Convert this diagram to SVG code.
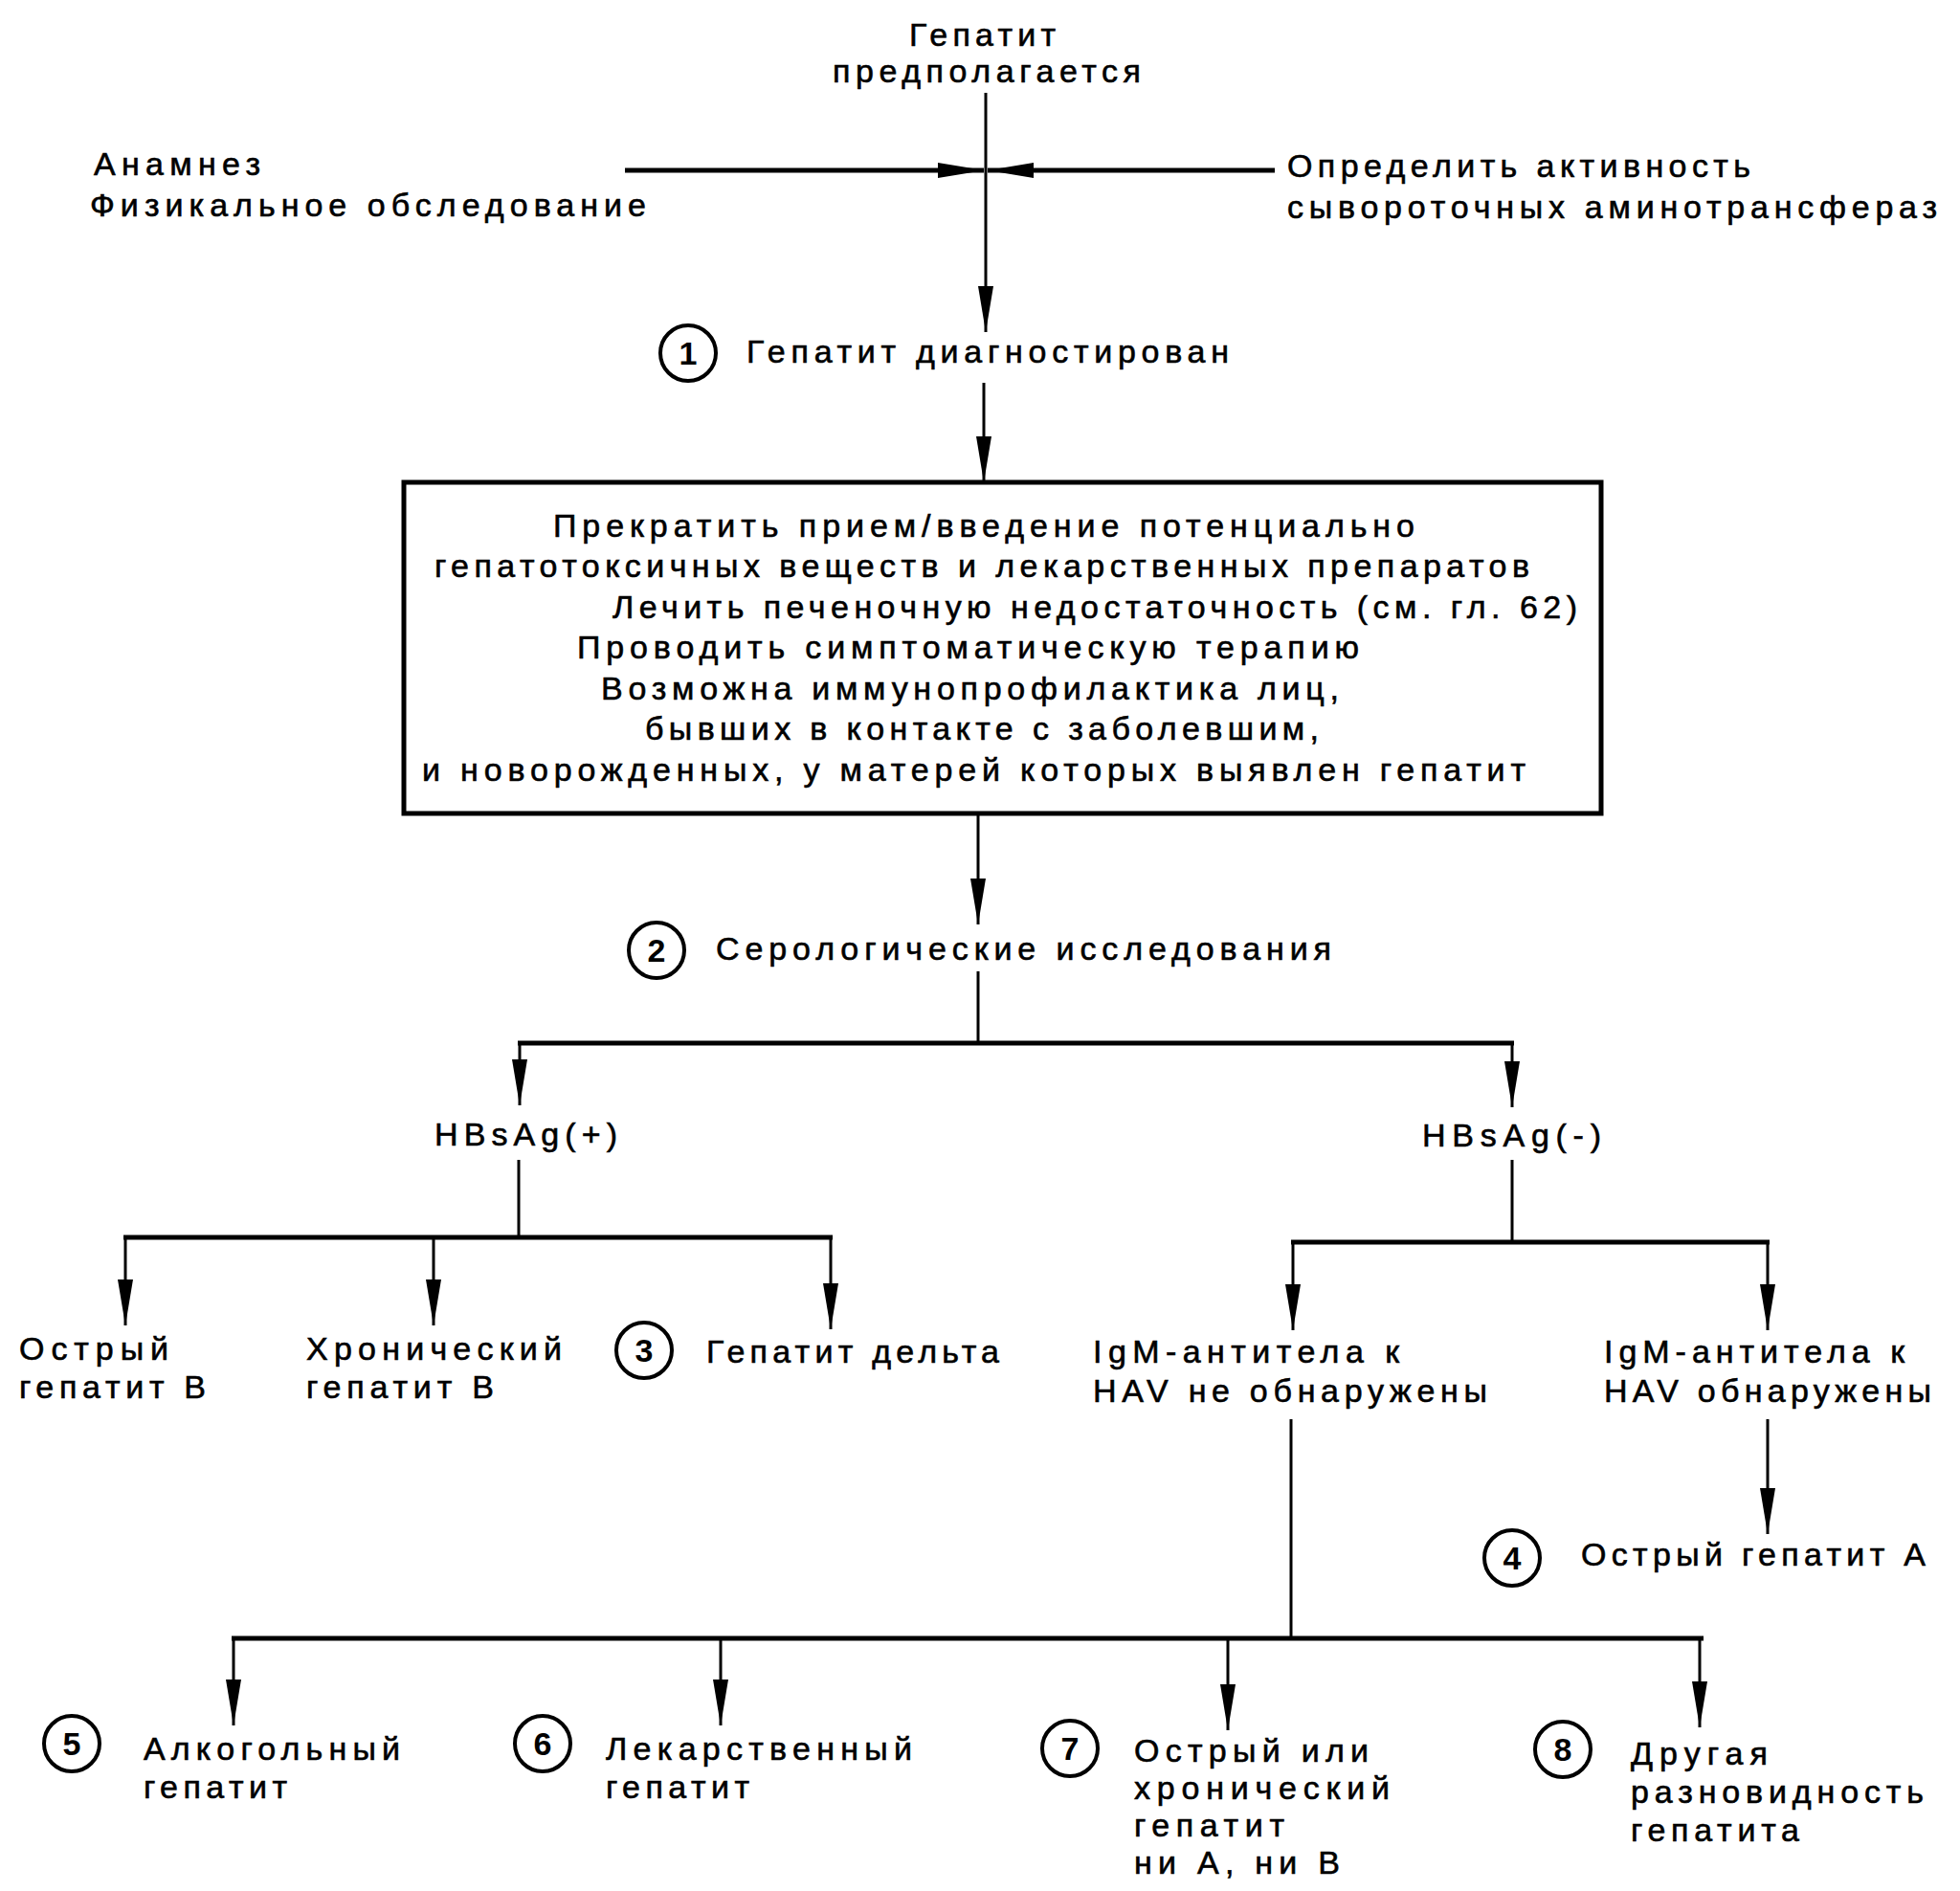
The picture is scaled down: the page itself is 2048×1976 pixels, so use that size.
<svg xmlns="http://www.w3.org/2000/svg" width="2048" height="1976" viewBox="0 0 2048 1976">
<defs>
<style>
.t{font-family:"Liberation Sans",Arial,sans-serif;font-size:34px;fill:#000;stroke:#000;stroke-width:0.6}
.n{font-family:"Liberation Sans",Arial,sans-serif;font-size:34px;font-weight:bold;fill:#000;text-anchor:middle}
.c{fill:none;stroke:#000;stroke-width:4}
.l{fill:none;stroke:#000;stroke-width:3}
.b{fill:none;stroke:#000;stroke-width:5}
.box{fill:#fff;stroke:#000;stroke-width:5}
</style>
<marker id="ah" markerUnits="userSpaceOnUse" markerWidth="52" markerHeight="18" refX="48" refY="8" orient="auto">
<path d="M0,0 L48,8 L0,16 Z" fill="#000"/>
</marker>
</defs>
<rect width="2048" height="1976" fill="#fff"/>

<g id="connectors">
<line class="l" x1="1030" y1="97" x2="1030" y2="347" marker-end="url(#ah)"/>
<line class="b" x1="653" y1="178" x2="1028" y2="178" marker-end="url(#ah)"/>
<line class="b" x1="1332" y1="178" x2="1032" y2="178" marker-end="url(#ah)"/>
<line class="l" x1="1028" y1="400" x2="1028" y2="504" marker-end="url(#ah)"/>
<line class="l" x1="1022" y1="852" x2="1022" y2="966" marker-end="url(#ah)"/>
<line class="l" x1="1022" y1="1015" x2="1022" y2="1090"/>
<line class="b" x1="541" y1="1090" x2="1582" y2="1090"/>
<line class="l" x1="543" y1="1090" x2="543" y2="1155" marker-end="url(#ah)"/>
<line class="l" x1="1580" y1="1090" x2="1580" y2="1157" marker-end="url(#ah)"/>
<line class="l" x1="542" y1="1212" x2="542" y2="1293"/>
<line class="b" x1="129" y1="1293" x2="870" y2="1293"/>
<line class="l" x1="131" y1="1293" x2="131" y2="1385" marker-end="url(#ah)"/>
<line class="l" x1="453" y1="1293" x2="453" y2="1385" marker-end="url(#ah)"/>
<line class="l" x1="868" y1="1293" x2="868" y2="1389" marker-end="url(#ah)"/>
<line class="l" x1="1580" y1="1212" x2="1580" y2="1298"/>
<line class="b" x1="1349" y1="1298" x2="1849" y2="1298"/>
<line class="l" x1="1351" y1="1298" x2="1351" y2="1390" marker-end="url(#ah)"/>
<line class="l" x1="1847" y1="1298" x2="1847" y2="1390" marker-end="url(#ah)"/>
<line class="l" x1="1349" y1="1483" x2="1349" y2="1712"/>
<line class="l" x1="1847" y1="1483" x2="1847" y2="1603" marker-end="url(#ah)"/>
<line class="b" x1="242" y1="1712" x2="1780" y2="1712"/>
<line class="l" x1="244" y1="1712" x2="244" y2="1803" marker-end="url(#ah)"/>
<line class="l" x1="753" y1="1712" x2="753" y2="1803" marker-end="url(#ah)"/>
<line class="l" x1="1283" y1="1712" x2="1283" y2="1808" marker-end="url(#ah)"/>
<line class="l" x1="1776" y1="1712" x2="1776" y2="1805" marker-end="url(#ah)"/>
</g>

<g id="start">
<text class="t" x="950" y="48" textLength="153" lengthAdjust="spacing">Гепатит</text>
<text class="t" x="870" y="86" textLength="322" lengthAdjust="spacing">предполагается</text>
</g>
<g id="history">
<text class="t" x="98" y="183" textLength="174" lengthAdjust="spacing">Анамнез</text>
<text class="t" x="94" y="226" textLength="581" lengthAdjust="spacing">Физикальное обследование</text>
</g>
<g id="aminotransferase">
<text class="t" x="1345" y="185" textLength="484" lengthAdjust="spacing">Определить активность</text>
<text class="t" x="1345" y="228" textLength="679" lengthAdjust="spacing">сывороточных аминотрансфераз</text>
</g>
<g id="step1">
<circle class="c" cx="719" cy="369" r="29"/>
<text class="n" x="719" y="381">1</text>
<text class="t" x="780" y="379" textLength="504" lengthAdjust="spacing">Гепатит диагностирован</text>
</g>
<g id="treatment">
<rect class="box" x="422" y="504" width="1251" height="346"/>
<text class="t" x="578" y="561" textLength="900" lengthAdjust="spacing">Прекратить прием/введение потенциально</text>
<text class="t" x="454" y="603" textLength="1144" lengthAdjust="spacing">гепатотоксичных веществ и лекарственных препаратов</text>
<text class="t" x="640" y="646" textLength="1008" lengthAdjust="spacing">Лечить печеночную недостаточность (см. гл. 62)</text>
<text class="t" x="603" y="688" textLength="817" lengthAdjust="spacing">Проводить симптоматическую терапию</text>
<text class="t" x="628" y="731" textLength="771" lengthAdjust="spacing">Возможна иммунопрофилактика лиц,</text>
<text class="t" x="674" y="773" textLength="704" lengthAdjust="spacing">бывших в контакте с заболевшим,</text>
<text class="t" x="441" y="816" textLength="1153" lengthAdjust="spacing">и новорожденных, у матерей которых выявлен гепатит</text>
</g>
<g id="step2">
<circle class="c" cx="686" cy="993" r="29"/>
<text class="n" x="686" y="1005">2</text>
<text class="t" x="748" y="1003" textLength="643" lengthAdjust="spacing">Серологические исследования</text>
</g>
<g id="hbsag-pos">
<text class="t" x="454" y="1197" textLength="191" lengthAdjust="spacing">HBsAg(+)</text>
</g>
<g id="hbsag-neg">
<text class="t" x="1486" y="1198" textLength="187" lengthAdjust="spacing">HBsAg(-)</text>
</g>
<g id="acute-b">
<text class="t" x="20" y="1421" textLength="156" lengthAdjust="spacing">Острый</text>
<text class="t" x="20" y="1461" textLength="195" lengthAdjust="spacing">гепатит В</text>
</g>
<g id="chronic-b">
<text class="t" x="320" y="1421" textLength="267" lengthAdjust="spacing">Хронический</text>
<text class="t" x="320" y="1461" textLength="196" lengthAdjust="spacing">гепатит В</text>
</g>
<g id="step3">
<circle class="c" cx="673" cy="1411" r="29"/>
<text class="n" x="673" y="1423">3</text>
<text class="t" x="738" y="1424" textLength="306" lengthAdjust="spacing">Гепатит дельта</text>
</g>
<g id="igm-neg">
<text class="t" x="1142" y="1424" textLength="320" lengthAdjust="spacing">IgM-антитела к</text>
<text class="t" x="1142" y="1465" textLength="412" lengthAdjust="spacing">HAV не обнаружены</text>
</g>
<g id="igm-pos">
<text class="t" x="1676" y="1424" textLength="314" lengthAdjust="spacing">IgM-антитела к</text>
<text class="t" x="1676" y="1465" textLength="342" lengthAdjust="spacing">HAV обнаружены</text>
</g>
<g id="step4">
<circle class="c" cx="1580" cy="1628" r="29"/>
<text class="n" x="1580" y="1640">4</text>
<text class="t" x="1652" y="1636" textLength="360" lengthAdjust="spacing">Острый гепатит А</text>
</g>
<g id="step5">
<circle class="c" cx="75" cy="1822" r="29"/>
<text class="n" x="75" y="1834">5</text>
<text class="t" x="150" y="1839" textLength="268" lengthAdjust="spacing">Алкогольный</text>
<text class="t" x="150" y="1879" textLength="150" lengthAdjust="spacing">гепатит</text>
</g>
<g id="step6">
<circle class="c" cx="567" cy="1822" r="29"/>
<text class="n" x="567" y="1834">6</text>
<text class="t" x="633" y="1839" textLength="320" lengthAdjust="spacing">Лекарственный</text>
<text class="t" x="633" y="1879" textLength="150" lengthAdjust="spacing">гепатит</text>
</g>
<g id="step7">
<circle class="c" cx="1118" cy="1827" r="29"/>
<text class="n" x="1118" y="1839">7</text>
<text class="t" x="1185" y="1841" textLength="245" lengthAdjust="spacing">Острый или</text>
<text class="t" x="1185" y="1880" textLength="267" lengthAdjust="spacing">хронический</text>
<text class="t" x="1185" y="1919" textLength="157" lengthAdjust="spacing">гепатит</text>
<text class="t" x="1185" y="1958" textLength="215" lengthAdjust="spacing">ни А, ни В</text>
</g>
<g id="step8">
<circle class="c" cx="1633" cy="1828" r="29"/>
<text class="n" x="1633" y="1840">8</text>
<text class="t" x="1704" y="1844" textLength="143" lengthAdjust="spacing">Другая</text>
<text class="t" x="1704" y="1884" textLength="306" lengthAdjust="spacing">разновидность</text>
<text class="t" x="1704" y="1924" textLength="176" lengthAdjust="spacing">гепатита</text>
</g>
</svg>
